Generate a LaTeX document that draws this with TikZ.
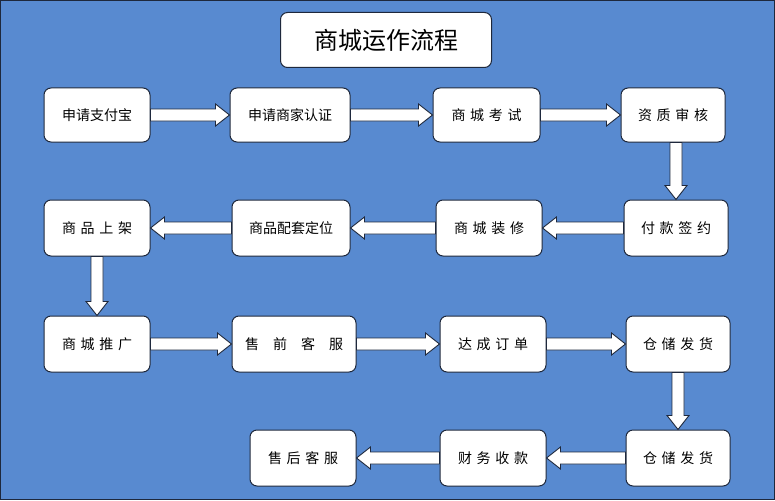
\documentclass[tikz,border=0pt]{standalone}
\usepackage{fontspec}
\setmainfont{Noto Sans CJK SC}
\usetikzlibrary{calc}
\definecolor{bg}{RGB}{88,138,208}
\definecolor{edge}{RGB}{30,40,60}
\tikzset{
 box/.style={draw=edge,line width=1pt,fill=white,rounded corners=7pt,font=\fontsize{14}{16}\selectfont},
 barrow/.style={draw=edge,line width=0.9pt,fill=white,line join=miter}
}
\newcommand\barr[2]{\coordinate (p) at ($(#2)!14pt!(#1)$);
\draw[barrow] ($(#1)!6pt!90:(#2)$) -- ($(p)!6pt!90:(#2)$) -- ($(p)!11pt!90:(#2)$) -- (#2) -- ($(p)!11pt!-90:(#2)$) -- ($(p)!6pt!-90:(#2)$) -- ($(#1)!6pt!-90:(#2)$) -- cycle;}
\newcommand\bx[6]{\node[box,minimum width={(#4-#2)*1pt},minimum height={(#5-#3)*1pt}] (#1) at ({(#2+#4)/2},{(#3+#5)/2}) {#6};}
\begin{document}
\begin{tikzpicture}[x=1pt,y=-1pt]
\fill[bg] (0,0) rectangle (775,500);
\draw[edge,line width=1pt] (0.5,0.5) rectangle (774.5,499.5);
\node[box,minimum width=211pt,minimum height=55pt,font=\fontsize{24}{28}\selectfont] (t) at (386,40) {商城运作流程};
\bx{a1}{44}{88}{150}{142}{申请支付宝}
\bx{a2}{230}{88}{350}{142}{申请商家认证}
\bx{a3}{433}{88}{540}{142}{商\,\,城\,\,考\,\,试}
\bx{a4}{621}{88}{725}{142}{资\,\,质\,\,审\,\,核}
\bx{b1}{44}{200}{150}{256}{商\,\,品\,\,上\,\,架}
\bx{b2}{232}{200}{350}{256}{商品配套定位}
\bx{b3}{436}{200}{542}{256}{商\,\,城\,\,装\,\,修}
\bx{b4}{624}{200}{728}{256}{付\,\,款\,\,签\,\,约}
\bx{c1}{44}{316}{150}{372}{商\,\,城\,\,推\,\,广}
\bx{c2}{232}{316}{356}{372}{售\quad 前\quad 客\quad 服}
\bx{c3}{440}{316}{546}{372}{达\,\,成\,\,订\,\,单}
\bx{c4}{626}{316}{730}{372}{仓\,\,储\,\,发\,\,货}
\bx{d2}{250}{430}{356}{486}{售\,\,后\,\,客\,\,服}
\bx{d3}{440}{430}{546}{486}{财\,\,务\,\,收\,\,款}
\bx{d4}{626}{430}{730}{486}{仓\,\,储\,\,发\,\,货}
\barr{a1.east}{a2.west}
\barr{a2.east}{a3.west}
\barr{a3.east}{a4.west}
\barr{b4.north|-a4.south}{b4.north}
\barr{b4.west}{b3.east}
\barr{b3.west}{b2.east}
\barr{b2.west}{b1.east}
\barr{b1.south}{c1.north}
\barr{c1.east}{c2.west}
\barr{c2.east}{c3.west}
\barr{c3.east}{c4.west}
\barr{c4.south}{d4.north}
\barr{d4.west}{d3.east}
\barr{d3.west}{d2.east}
\end{tikzpicture}
\end{document}
